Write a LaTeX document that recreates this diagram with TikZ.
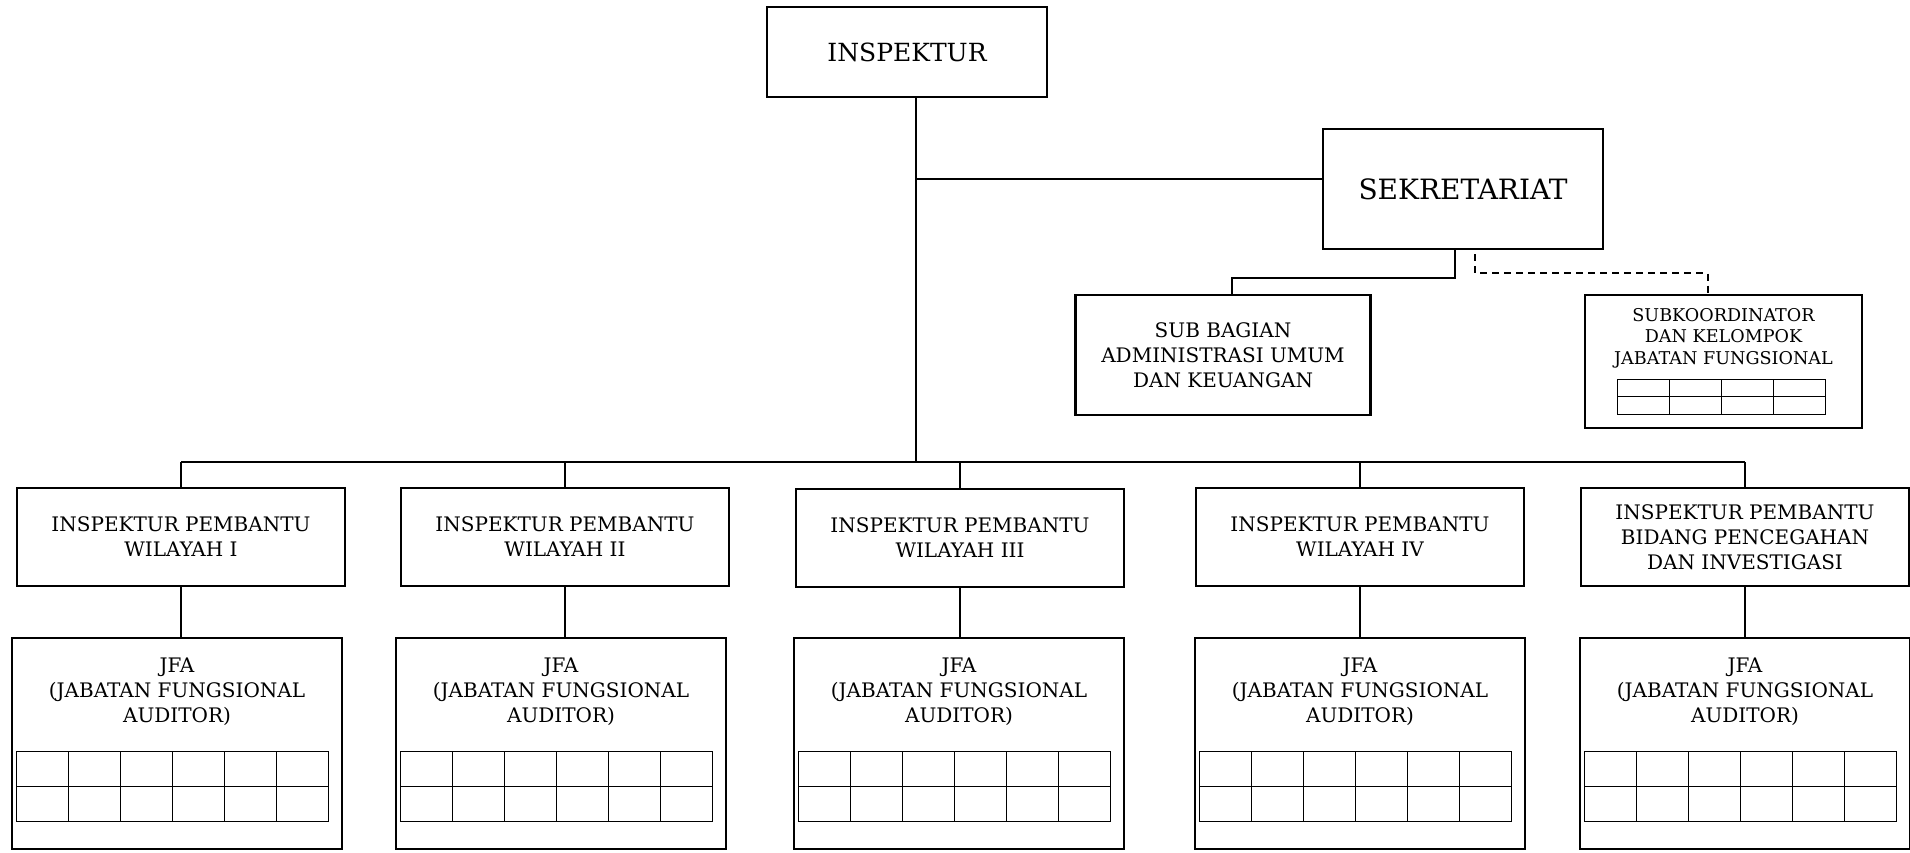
\documentclass[tikz,border=0pt]{standalone}
\usepackage{fontspec}
\setmainfont{DejaVu Serif}
\usetikzlibrary{positioning}

\begin{document}
\begin{tikzpicture}[x=0.5pt, y=-0.5pt,
    every node/.style={font=\fontsize{10}{12.5}\selectfont},
    kotak/.style={draw, line width=1.2pt, align=center, inner sep=0pt},
    garis/.style={line width=1pt},
    tabel/.style={line width=0.6pt}]

  \useasboundingbox (0,0) rectangle (1910,852);

  % Inspektur
  \node[kotak, minimum width=140pt, minimum height=45pt, font=\fontsize{12.5}{14}\selectfont] (insp) at (907,52) {INSPEKTUR};
  \coordinate (batang) at (916,462);
  \coordinate (cabang) at (916,179);
  \draw[garis] (insp.south -| batang) -- (batang);

  % Sekretariat
  \node[kotak, minimum width=140pt, minimum height=60pt, font=\fontsize{14}{16}\selectfont] (sek) at (1463,189) {SEKRETARIAT};
  \draw[garis] (cabang) -- (cabang -| sek.west);

  % Sub bagian administrasi umum dan keuangan
  \node[kotak, minimum width=147.5pt, minimum height=60pt] (subbag) at (1223,355) {SUB BAGIAN\\ADMINISTRASI UMUM\\DAN KEUANGAN};
  \draw[garis] ([xshift=-4pt]sek.south) -- ++(0,28) -| ([xshift=4.5pt]subbag.north);

  % Subkoordinator dan kelompok jabatan fungsional
  \node[kotak, minimum width=138.5pt, minimum height=66.5pt] (subkoor) at (1723.5,361.5) {};
  \node[font=\fontsize{8.8}{10.8}\selectfont, align=center, inner sep=0pt, below=7pt of subkoor.north] (tsubkoor) {SUBKOORDINATOR\\DAN KELOMPOK\\JABATAN FUNGSIONAL};
  \draw[garis, dash pattern=on 3.5pt off 2.5pt] ([xshift=6pt]sek.south) ++(0,4) -- ++(0,19) -| ([xshift=-8pt]subkoor.north);
  \begin{scope}[shift={(subkoor.south west)}]
    \draw[tabel] (34,-15) rectangle (242,-50);
    \draw[tabel] (34,-32.5) -- (242,-32.5);
    \foreach \k in {1,2,3} \draw[tabel] (34+52*\k,-15) -- (34+52*\k,-50);
  \end{scope}

  % Inspektur pembantu
  \node[kotak, minimum width=164pt, minimum height=49pt] (ip1) at (181,537) {INSPEKTUR PEMBANTU\\WILAYAH I};
  \node[kotak, minimum width=164pt, minimum height=49pt] (ip2) at (565,537) {INSPEKTUR PEMBANTU\\WILAYAH II};
  \node[kotak, minimum width=164pt, minimum height=49pt] (ip3) at (960,538) {INSPEKTUR PEMBANTU\\WILAYAH III};
  \node[kotak, minimum width=164pt, minimum height=49pt] (ip4) at (1360,537) {INSPEKTUR PEMBANTU\\WILAYAH IV};
  \node[kotak, minimum width=164pt, minimum height=49pt] (ip5) at (1745,537) {INSPEKTUR PEMBANTU\\BIDANG PENCEGAHAN\\DAN INVESTIGASI};
  \draw[garis] (ip1.north |- batang) -- (ip5.north |- batang);

  % JFA
  \node[kotak, minimum width=165pt, minimum height=105.5pt] (jfa1) at (177,743.5) {};
  \node[kotak, minimum width=165pt, minimum height=105.5pt] (jfa2) at (561,743.5) {};
  \node[kotak, minimum width=165pt, minimum height=105.5pt] (jfa3) at (959,743.5) {};
  \node[kotak, minimum width=165pt, minimum height=105.5pt] (jfa4) at (1360,743.5) {};
  \node[kotak, minimum width=165pt, minimum height=105.5pt] (jfa5) at (1745,743.5) {};

  \foreach \i in {1,...,5}{
    \draw[garis] (ip\i.north |- batang) -- (ip\i.north);
    \draw[garis] (ip\i.south) -- (ip\i.south |- jfa\i.north);
    \node[align=center, inner sep=0pt, below=10.5pt of jfa\i.north] (tjfa\i) {JFA\\(JABATAN FUNGSIONAL\\AUDITOR)};
    \begin{scope}[shift={(jfa\i.south west)}]
      \draw[tabel] (6,-29) rectangle (318,-99);
      \draw[tabel] (6,-64) -- (318,-64);
      \foreach \k in {1,...,5} \draw[tabel] (6+52*\k,-29) -- (6+52*\k,-99);
    \end{scope}
  }

\end{tikzpicture}
\end{document}
